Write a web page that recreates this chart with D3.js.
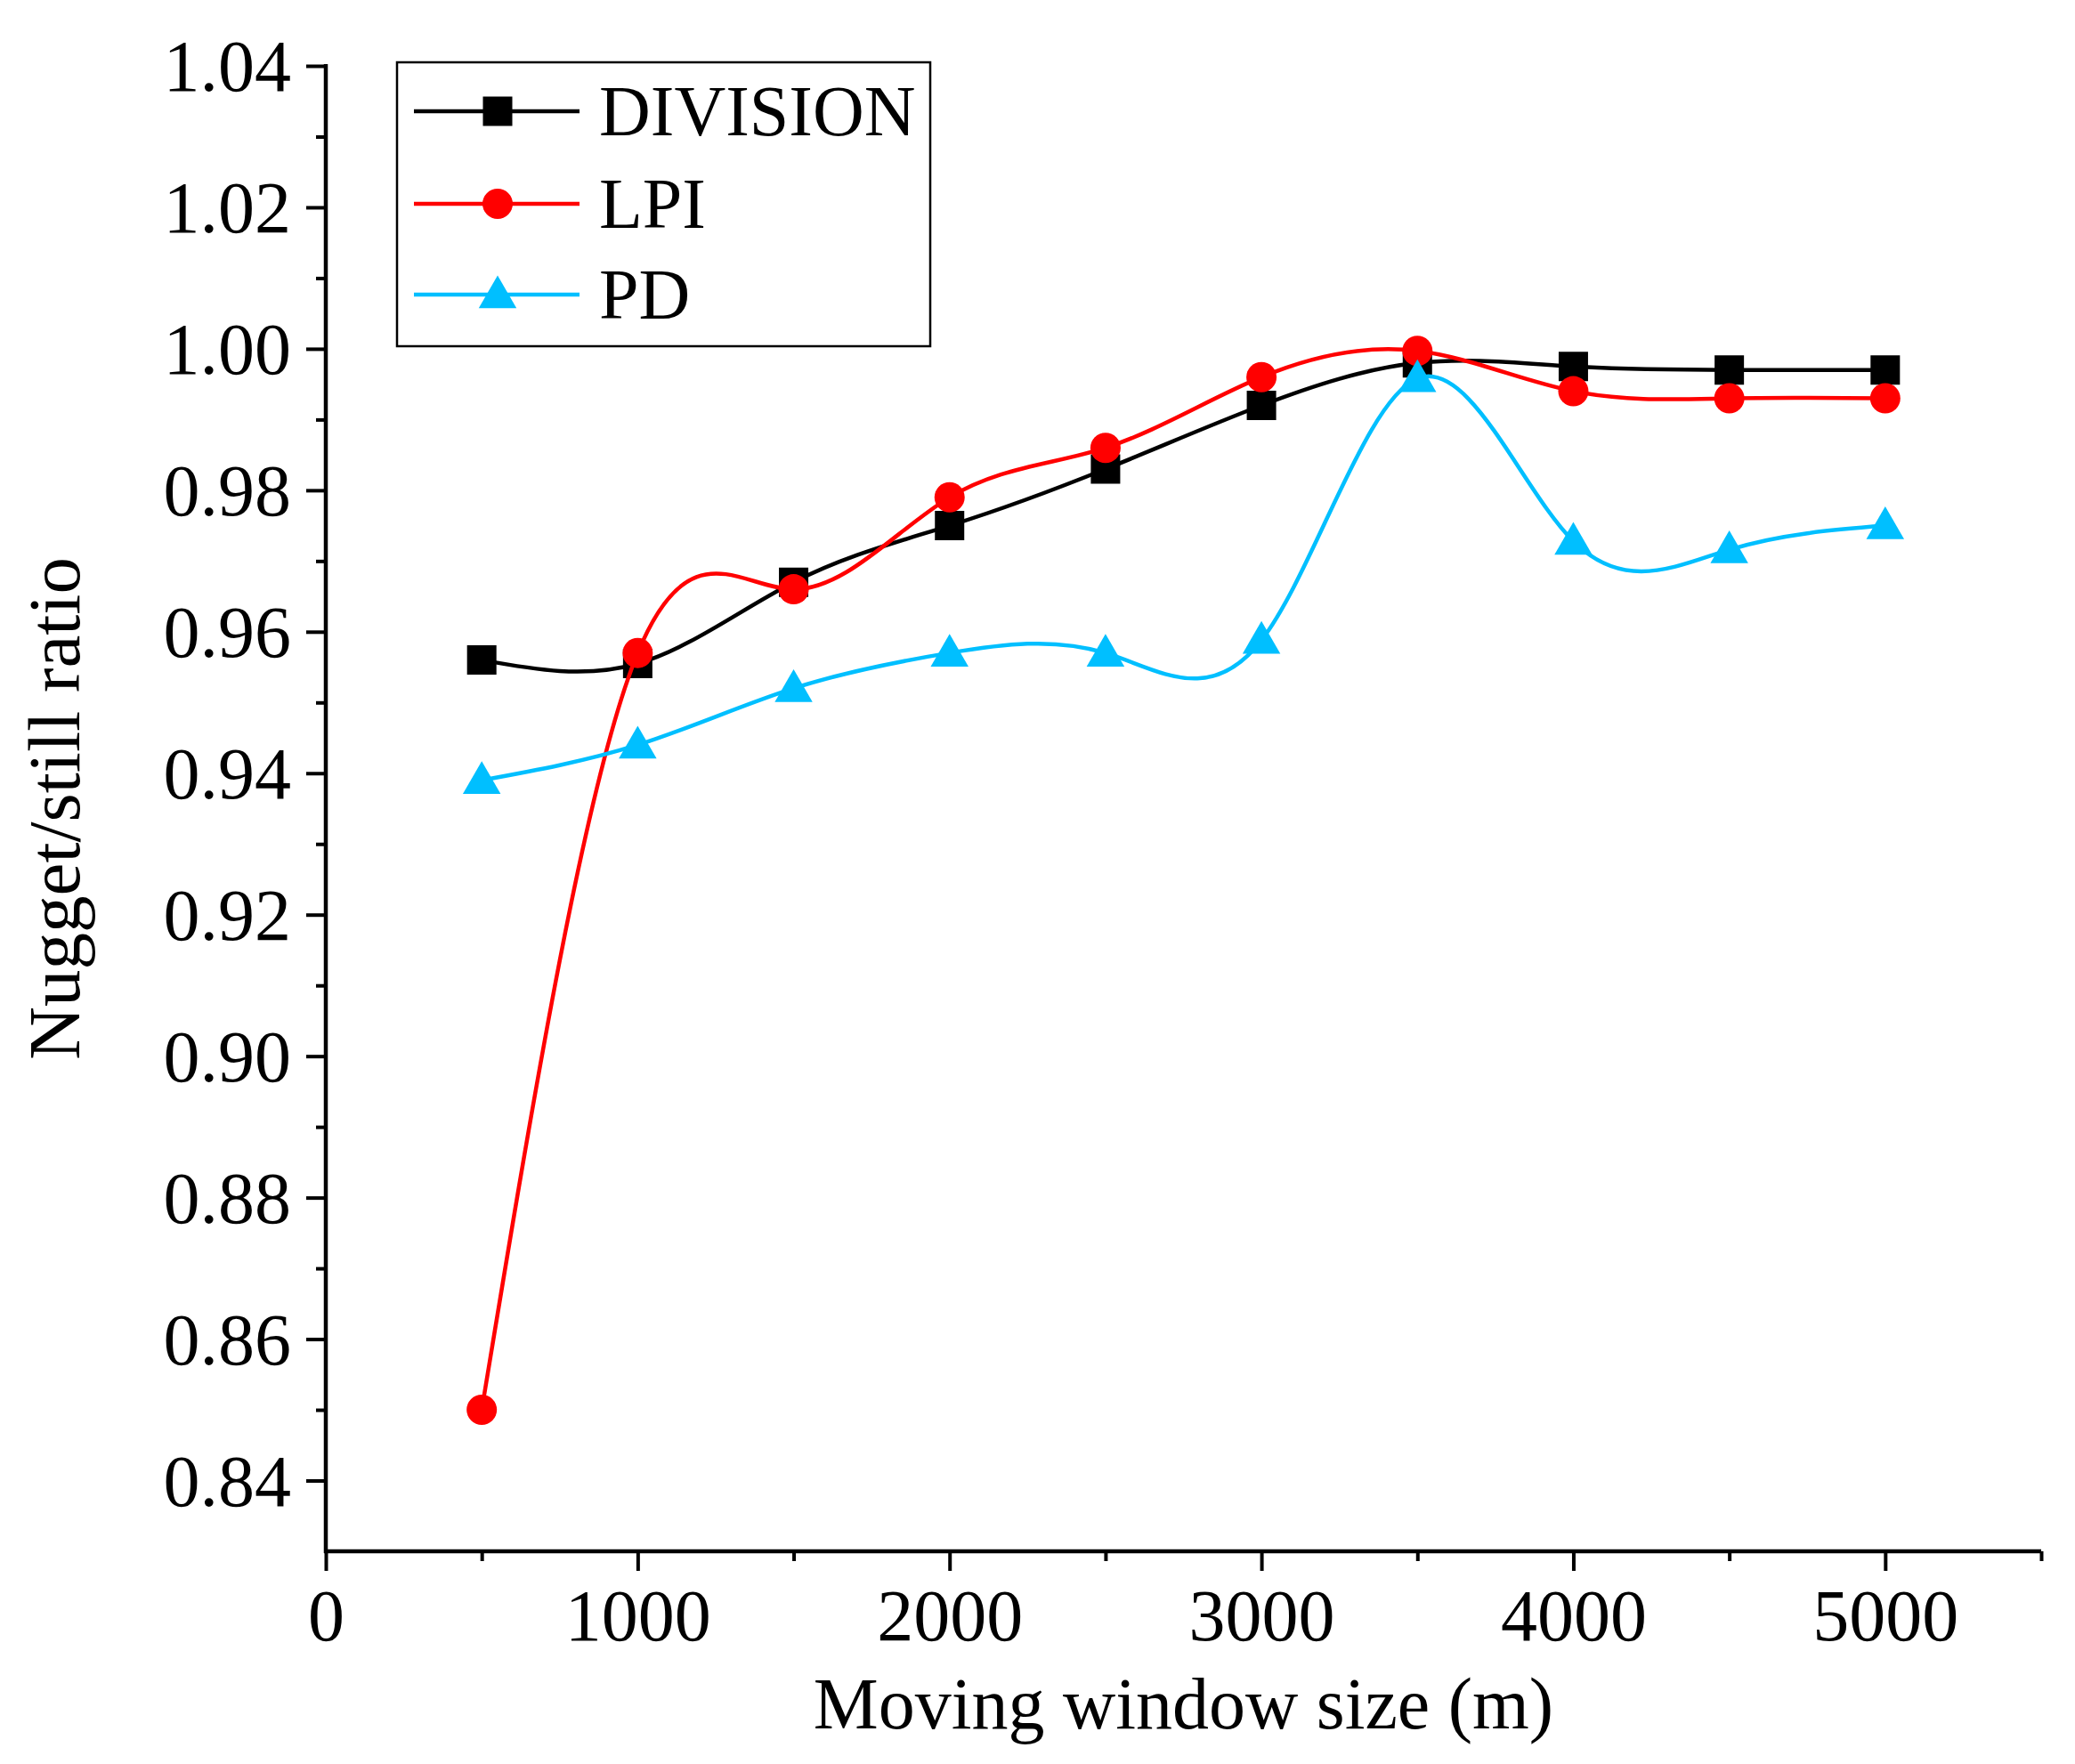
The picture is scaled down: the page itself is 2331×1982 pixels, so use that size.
<!DOCTYPE html>
<html>
<head>
<meta charset="utf-8">
<script src="https://cdn.jsdelivr.net/npm/d3@7"></script>
<style>
  html, body { margin: 0; padding: 0; background: #fff; }
  svg { display: block; }
  text { font-family: "Liberation Serif", "Times New Roman", serif; fill: #000; }
</style>
</head>
<body>
<script>
// ---- data ----
const windowSizes = [500, 1000, 1500, 2000, 2500, 3000, 3500, 4000, 4500, 5000];
const divisionValues = [0.956, 0.9555, 0.967, 0.975, 0.983, 0.992, 0.998, 0.9975, 0.997, 0.997];
const lpiValues = [0.850, 0.957, 0.966, 0.979, 0.986, 0.996, 0.9997, 0.994, 0.993, 0.993];
const pdValues = [0.939, 0.944, 0.952, 0.957, 0.957, 0.9588, 0.9958, 0.9728, 0.9716, 0.975];
const seriesNames = ["DIVISION", "LPI", "PD"];
const seriesColors = ["#000000", "#FF0000", "#00BFFF"];
const seriesSymbols = ["square", "circle", "triangle"];
const yMajorTicks = [0.84, 0.86, 0.88, 0.90, 0.92, 0.94, 0.96, 0.98, 1.00, 1.02, 1.04];
const yMinorTicks = [0.85, 0.87, 0.89, 0.91, 0.93, 0.95, 0.97, 0.99, 1.01, 1.03];
const xMajorTicks = [0, 1000, 2000, 3000, 4000, 5000];
const xMinorTicks = [500, 1500, 2500, 3500, 4500, 5500];
const xTitle = "Moving window size (m)";
const yTitle = "Nugget/still ratio";

(function () {
const W = 2331, H = 1982;
const pLeft = 366, pRight = 2293, pTop = 74, pBottom = 1743;

const svg = d3.select("body").append("svg").attr("width", W).attr("height", H);

const x = d3.scaleLinear().domain([0, 5500]).range([pLeft, pRight]);
const y = d3.scaleLinear().domain([0.83, 1.04]).range([pBottom, pTop]);

function styleAxis(g) {
  g.select(".domain").remove();
  g.selectAll(".tick line").attr("stroke", "#000").attr("stroke-width", 4);
}
const yAxisMajor = svg.append("g").attr("transform", `translate(${pLeft},0)`)
  .call(d3.axisLeft(y).tickValues(yMajorTicks).tickSize(22).tickPadding(17).tickFormat(d3.format(".2f")));
styleAxis(yAxisMajor);
yAxisMajor.selectAll(".tick text").attr("font-size", 82).attr("font-family", "Liberation Serif").attr("dy", "0.34em");

const yAxisMinor = svg.append("g").attr("transform", `translate(${pLeft},0)`)
  .call(d3.axisLeft(y).tickValues(yMinorTicks).tickSize(11).tickFormat(""));
styleAxis(yAxisMinor);

const xAxisMajor = svg.append("g").attr("transform", `translate(0,${pBottom})`)
  .call(d3.axisBottom(x).tickValues(xMajorTicks).tickSize(22).tickPadding(20).tickFormat(d3.format("d")));
styleAxis(xAxisMajor);
xAxisMajor.selectAll(".tick text").attr("font-size", 82).attr("font-family", "Liberation Serif").attr("dy", "0.71em");

const xAxisMinor = svg.append("g").attr("transform", `translate(0,${pBottom})`)
  .call(d3.axisBottom(x).tickValues(xMinorTicks).tickSize(11).tickFormat(""));
styleAxis(xAxisMinor);

svg.append("line").attr("x1", pLeft).attr("x2", pLeft).attr("y1", pTop - 2).attr("y2", pBottom + 2)
  .attr("stroke", "#000").attr("stroke-width", 4.5);
svg.append("line").attr("x1", pLeft - 2).attr("x2", pRight).attr("y1", pBottom).attr("y2", pBottom)
  .attr("stroke", "#000").attr("stroke-width", 4.5);

svg.append("text").attr("x", (pLeft + pRight) / 2).attr("y", 1942).attr("text-anchor", "middle")
  .attr("font-size", 82).text(xTitle);
svg.append("text").attr("transform", `translate(89,${(pTop + pBottom) / 2}) rotate(-90)`)
  .attr("text-anchor", "middle").attr("font-size", 83).text(yTitle);

const symbolTypes = { square: d3.symbolSquare, circle: d3.symbolCircle, triangle: d3.symbolTriangle };
const symbolSizes = { square: 33 * 33, circle: Math.PI * 17 * 17, triangle: 780 };

const allSeries = [divisionValues, lpiValues, pdValues];
const line = d3.line().x(d => x(d[0])).y(d => y(d[1])).curve(d3.curveNatural);

allSeries.forEach((vals, i) => {
  const pts = windowSizes.map((w, k) => [w, vals[k]]);
  const g = svg.append("g");
  g.append("path").attr("d", line(pts)).attr("fill", "none")
    .attr("stroke", seriesColors[i]).attr("stroke-width", 4.5);
  g.selectAll("path.mk").data(pts).enter().append("path").attr("class", "mk")
    .attr("d", d3.symbol().type(symbolTypes[seriesSymbols[i]]).size(symbolSizes[seriesSymbols[i]]))
    .attr("transform", d => `translate(${x(d[0])},${y(d[1]) + (seriesSymbols[i] === "triangle" ? 3 : 0)})`)
    .attr("fill", seriesColors[i]);
});

const legX = 446, legY = 70, legW = 599, legH = 319;
svg.append("rect").attr("x", legX).attr("y", legY).attr("width", legW).attr("height", legH)
  .attr("fill", "#fff").attr("stroke", "#000").attr("stroke-width", 2.5);
const legRows = [125, 229, 331];
seriesNames.forEach((name, i) => {
  const cy = legRows[i];
  svg.append("line").attr("x1", 465).attr("x2", 651).attr("y1", cy).attr("y2", cy)
    .attr("stroke", seriesColors[i]).attr("stroke-width", 4.5);
  svg.append("path")
    .attr("d", d3.symbol().type(symbolTypes[seriesSymbols[i]]).size(symbolSizes[seriesSymbols[i]]))
    .attr("transform", `translate(559,${cy + (seriesSymbols[i] === "triangle" ? 3 : 0)})`)
    .attr("fill", seriesColors[i]);
  svg.append("text").attr("x", 673).attr("y", cy + 27).attr("font-size", 80).text(name);
});
})();
</script>
</body>
</html>
